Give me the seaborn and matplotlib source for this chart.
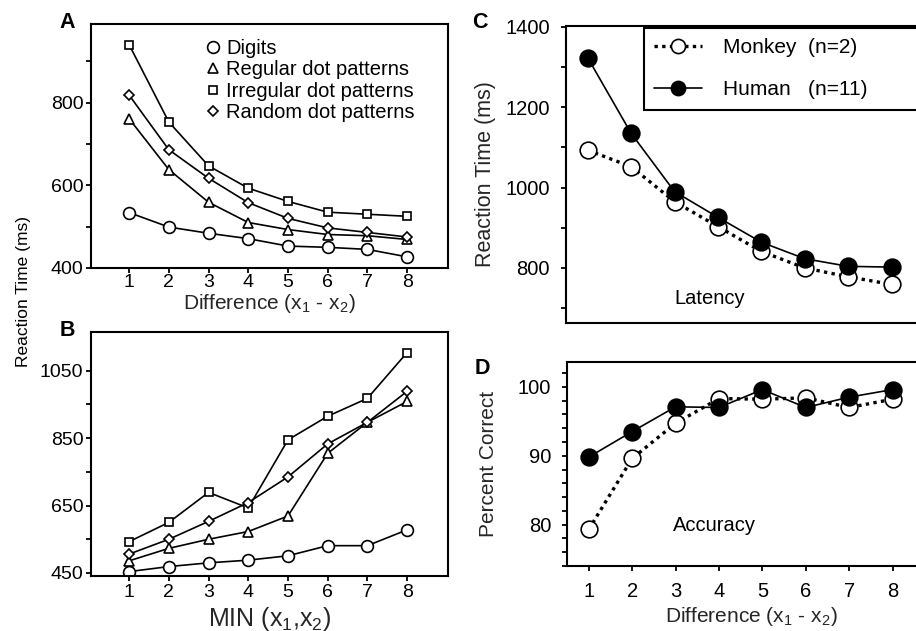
import seaborn as sns
import matplotlib.pyplot as plt
import pandas as pd

# ---- data ----
diff = [1, 2, 3, 4, 5, 6, 7, 8]
min_x = [1, 2, 3, 4, 5, 6, 7, 8]

a_digits = [534, 499, 484, 471, 453, 450, 445, 427]
a_regular = [761, 638, 559, 510, 493, 481, 478, 469]
a_irregular = [940, 753, 647, 593, 561, 535, 530, 525]
a_random = [818, 686, 617, 558, 520, 497, 486, 475]

b_digits = [454, 469, 480, 488, 501, 531, 531, 578]
b_regular = [486, 523, 550, 573, 619, 805, 897, 959]
b_irregular = [543, 600, 689, 643, 845, 915, 968, 1104]
b_random = [506, 550, 603, 659, 735, 833, 897, 989]

c_monkey = [1093, 1052, 965, 903, 841, 800, 778, 759]
c_human = [1323, 1135, 990, 926, 864, 823, 804, 802]

d_monkey = [79.3, 89.6, 94.7, 98.3, 98.2, 98.4, 97.0, 98.2]
d_human = [89.8, 93.5, 97.1, 97.0, 99.6, 97.0, 98.5, 99.6]

series_names = ["Digits", "Regular dot patterns", "Irregular dot patterns", "Random dot patterns"]
monkey_label = "Monkey  (n=2)"
human_label = "Human   (n=11)"

a_yticks, a_yminor = [400, 600, 800], [500, 700, 900]
b_yticks, b_yminor = [450, 650, 850, 1050], [550, 750, 950]
c_yticks, c_yminor = [800, 1000, 1200, 1400], [700, 900, 1100, 1300]
d_yticks, d_yminor = [80, 90, 100], [74, 76, 78, 82, 84, 86, 88, 92, 94, 96, 98, 102]

sns.set_style("ticks")
plt.rcParams.update({
    'font.family': ['Liberation Sans', 'DejaVu Sans'],
    'mathtext.fontset': 'custom',
    'mathtext.rm': 'Liberation Sans',
    'mathtext.it': 'Liberation Sans',
    'axes.linewidth': 1.5,
    'axes.edgecolor': 'black',
    'xtick.direction': 'out',
    'ytick.direction': 'out',
    'xtick.major.size': 3.5, 'ytick.major.size': 3.5,
    'xtick.minor.size': 3.5, 'ytick.minor.size': 3.5,
    'xtick.major.width': 1.3, 'ytick.major.width': 1.3,
    'xtick.minor.width': 1.3, 'ytick.minor.width': 1.3,
    'xtick.color': 'black', 'ytick.color': 'black',
    'text.color': 'black',
})

fig = plt.figure(figsize=(9.16, 6.31), dpi=100)
W, H = 916, 631


def add_ax(left, top, right, bottom):
    return fig.add_axes([left / W, 1 - bottom / H, (right - left) / W, (bottom - top) / H])


ax_a = add_ax(91, 24, 448, 268)
ax_b = add_ax(91, 332, 448, 576)
ax_c = add_ax(566, 26, 935, 323)
ax_d = add_ax(567, 362, 936, 566)

marker_kws = [
    dict(marker='o', markersize=8.5),
    dict(marker='^', markersize=7.5),
    dict(marker='s', markersize=5.2),
    dict(marker='D', markersize=5.0),
]

# ---- A ----
for name, vals, mk in zip(series_names, [a_digits, a_regular, a_irregular, a_random], marker_kws):
    df = pd.DataFrame({"x": diff, "y": vals})
    sns.lineplot(data=df, x="x", y="y", ax=ax_a, color='black', lw=1.2, label=name,
                 markerfacecolor='white', markeredgecolor='black', markeredgewidth=1.2, **mk)
ax_a.set_xlim(0.04, 9.03)
ax_a.set_ylim(400, 990)
ax_a.set_xticks(diff)
ax_a.set_yticks(a_yticks)
ax_a.set_yticks(a_yminor, minor=True)
ax_a.tick_params(labelsize=14, pad=2)
ax_a.tick_params(axis='x', pad=1)
ax_a.set_ylabel("")
ax_a.set_xlabel(r"Difference (x$_1$ - x$_2$)", fontsize=15, labelpad=0.5)
leg = ax_a.legend(loc='upper left', bbox_to_anchor=(0.342, 0.94), frameon=False,
                  handlelength=0, handletextpad=0.65, borderpad=0, borderaxespad=0,
                  labelspacing=0.13, fontsize=14.5)

# ---- B ----
for name, vals, mk in zip(series_names, [b_digits, b_regular, b_irregular, b_random], marker_kws):
    df = pd.DataFrame({"x": min_x, "y": vals})
    sns.lineplot(data=df, x="x", y="y", ax=ax_b, color='black', lw=1.2,
                 markerfacecolor='white', markeredgecolor='black', markeredgewidth=1.2, **mk)
ax_b.set_xlim(0.04, 9.03)
ax_b.set_ylim(441, 1165)
ax_b.set_xticks(min_x)
ax_b.set_yticks(b_yticks)
ax_b.set_yticks(b_yminor, minor=True)
ax_b.tick_params(labelsize=14, pad=2)
ax_b.set_ylabel("")
ax_b.set_xlabel(r"MIN (x$_1$,x$_2$)", fontsize=18, labelpad=3)

# ---- C ----
sns.lineplot(x=diff, y=c_monkey, ax=ax_c, color='black', lw=2.4, linestyle=(0, (1.0, 1.3)),
             marker='o', markersize=12, markerfacecolor='white', markeredgecolor='black',
             markeredgewidth=1.2, label=monkey_label)
sns.lineplot(x=diff, y=c_human, ax=ax_c, color='black', lw=1.2,
             marker='o', markersize=12, markerfacecolor='black', markeredgecolor='black',
             markeredgewidth=1.2, label=human_label)
ax_c.set_xlim(0.5, 9.0)
ax_c.set_ylim(663, 1402)
ax_c.set_xticks([])
ax_c.set_yticks(c_yticks)
ax_c.set_yticks(c_yminor, minor=True)
ax_c.tick_params(labelsize=14.5, pad=8)
ax_c.set_ylabel("Reaction Time (ms)", fontsize=15.5, labelpad=7)
ax_c.text(0.39, 0.084, "Latency", transform=ax_c.transAxes, ha='center', va='center', fontsize=14.5)
leg_c = ax_c.legend(loc='upper left', bbox_to_anchor=(0.211, 0.993, 0.789, 0.0), mode='expand',
                    fancybox=False, edgecolor='black', framealpha=1, borderaxespad=0,
                    handlelength=2.3, handletextpad=1.0, borderpad=0.5, labelspacing=1.1,
                    fontsize=15, markerscale=0.85)
leg_c.get_frame().set_linewidth(1.5)

# ---- D ----
sns.lineplot(x=diff, y=d_monkey, ax=ax_d, color='black', lw=2.4, linestyle=(0, (1.0, 1.3)),
             marker='o', markersize=12, markerfacecolor='white', markeredgecolor='black',
             markeredgewidth=1.2)
sns.lineplot(x=diff, y=d_human, ax=ax_d, color='black', lw=1.2,
             marker='o', markersize=12, markerfacecolor='black', markeredgecolor='black',
             markeredgewidth=1.2)
ax_d.set_xlim(0.5, 9.0)
ax_d.set_ylim(74, 103.6)
ax_d.set_xticks(diff)
ax_d.set_yticks(d_yticks)
ax_d.set_yticks(d_yminor, minor=True)
ax_d.tick_params(axis='y', labelsize=14.5, pad=8)
ax_d.tick_params(axis='x', labelsize=14.5, pad=8)
ax_d.set_ylabel("Percent Correct", fontsize=15, labelpad=14)
ax_d.set_xlabel(r"Difference (x$_1$ - x$_2$)", fontsize=15, labelpad=3)
ax_d.text(0.40, 0.20, "Accuracy", transform=ax_d.transAxes, ha='center', va='center', fontsize=14.5)

for ax in (ax_a, ax_b, ax_c, ax_d):
    ax.grid(False)

# shared y label and panel letters
fig.text(24 / W, 1 - 292 / H, "Reaction Time (ms)", rotation=90, ha='center', va='center', fontsize=12.5)
for letter, (px, py) in zip("ABCD", [(67, 23), (67, 330), (480, 22), (482, 368)]):
    fig.text(px / W, 1 - py / H, letter, ha='center', va='center', fontsize=15.5, fontweight='bold')

fig.savefig("out.png", dpi=100)
